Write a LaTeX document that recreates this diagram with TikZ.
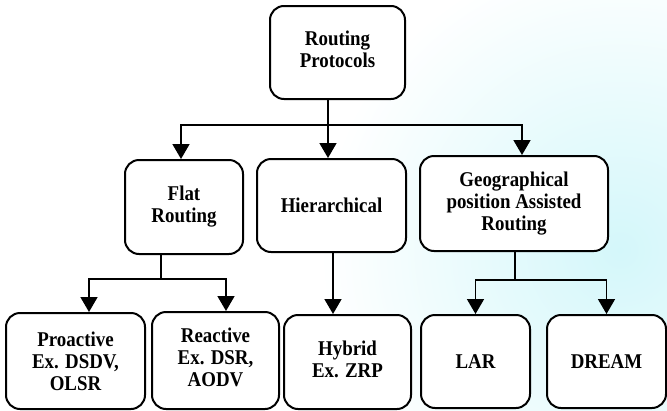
\documentclass[tikz,border=0pt]{standalone}
\usepackage{fontspec}
\setmainfont{Liberation Serif}[FakeStretch=0.9]
\usetikzlibrary{arrows.meta}
\definecolor{wmark}{RGB}{212,247,250}
\tikzset{
  box/.style={draw=black, line width=2pt, fill=white, rounded corners=14pt,
    align=center, inner sep=0pt,
    font=\fontsize{21}{22}\selectfont\bfseries},
  conn/.style={draw=black, line width=1.7pt},
  arr/.style={conn, -{Triangle[width=17pt,length=15pt]}, shorten >=0pt},
}
\begin{document}
\begin{tikzpicture}[x=1pt,y=-1pt]
\useasboundingbox (0,0) rectangle (667,410);
\begin{scope}
  \clip (0,0) rectangle (667,410);
  \shade[inner color=wmark, outer color=white] (620,250) circle (300);
\end{scope}

% level 0
\node[box, minimum width=135pt, minimum height=93pt] (root) at (337.5,52.5)
  {\raisebox{8.5pt}{\begin{tabular}{@{}c@{}}Routing\\Protocols\end{tabular}}};

% level 1
\node[box, minimum width=118pt, minimum height=94pt] (flat) at (184,207)
  {Flat\\Routing};
\node[box, minimum width=149pt, minimum height=93pt] (hier) at (331.5,205.5)
  {Hierarchical};
\node[box, minimum width=188pt, minimum height=95pt] (geo) at (514,203.5)
  {Geographical\\position Assisted\\Routing};

% level 2
\node[box, minimum width=139pt, minimum height=96pt] (pro) at (75.5,361)
  {Proactive\\Ex. DSDV,\\OLSR};
\node[box, minimum width=127pt, minimum height=97pt] (rea) at (215.5,360.5)
  {\raisebox{2.5pt}{\begin{tabular}{@{}c@{}}Reactive\\Ex. DSR,\\AODV\end{tabular}}};
\node[box, minimum width=127pt, minimum height=94pt] (hyb) at (347.5,362)
  {\raisebox{10pt}{\begin{tabular}{@{}c@{}}Hybrid\\Ex. ZRP\end{tabular}}};
\node[box, minimum width=109pt, minimum height=93pt] (lar) at (475.5,361.5)
  {LAR};
\node[box, minimum width=119pt, minimum height=93pt] (dream) at (606.5,361.5)
  {DREAM};

% connectors from root
\coordinate (j1) at (328,125);
\draw[conn] (root.south -| j1) -- (j1);
\draw[arr] (j1) -| ([xshift=-3pt]flat.north);
\draw[arr] (j1) -- (hier.north -| j1);
\draw[arr] (j1) -| ([xshift=8pt]geo.north);

% connectors from flat
\coordinate (j2) at (161,279);
\draw[conn] (flat.south -| j2) -- (j2);
\draw[arr] (j2) -| ([xshift=13.5pt]pro.north);
\draw[arr] (j2) -| ([xshift=10.5pt]rea.north);

% connector from hierarchical
\draw[arr] ([xshift=1.5pt]hier.south) -- ([xshift=1.5pt]hier.south |- hyb.north);

% connectors from geo
\coordinate (j3) at (515,280);
\draw[conn] (geo.south -| j3) -- (j3);
\draw[arr] (j3) -| (lar.north);
\draw[arr] (j3) -| (dream.north);
\end{tikzpicture}
\end{document}
